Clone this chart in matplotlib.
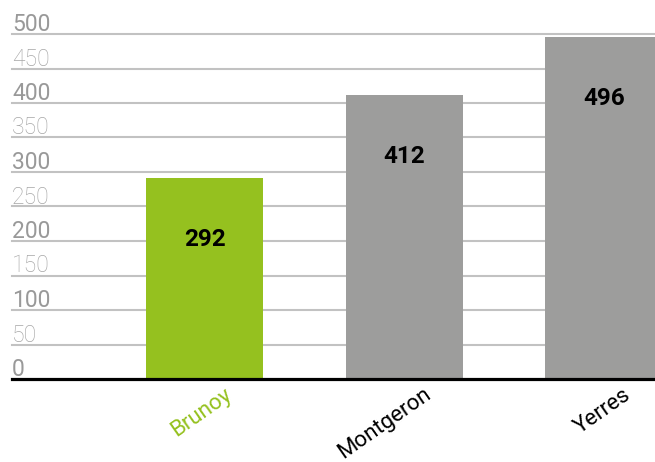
import matplotlib
matplotlib.use("Agg")
import matplotlib.pyplot as plt
import matplotlib.transforms as mtransforms

categories = ["Brunoy", "Montgeron", "Yerres"]
values = [292, 412, 496]
bar_colors = ["#95c11f", "#9d9d9c", "#9d9d9c"]
label_colors = ["#95c11f", "#000000", "#000000"]
yticks = [0, 50, 100, 150, 200, 250, 300, 350, 400, 450, 500]

W, H = 655, 462
fig = plt.figure(figsize=(W / 100, H / 100), dpi=100)
ax = fig.add_axes([12 / W, 83 / H, (W - 12) / W, 345 / H])

x = list(range(len(categories)))
ax.bar(x, values, width=0.587, color=bar_colors, zorder=3)
ax.set_xlim(-0.967, 2.256)
ax.set_ylim(0, 500)

for s in ax.spines.values():
    s.set_visible(False)
ax.set_xticks([])
ax.set_yticks([])

# gridlines and y labels
for v in yticks:
    if v == 0:
        continue
    ax.axhline(v, color="#c2c2c2", lw=1.5, zorder=1, clip_on=False)
major_off = mtransforms.ScaledTranslation(0, 3 / 100, fig.dpi_scale_trans)
for v in yticks:
    major = v % 100 == 0
    ax.text(0, v, str(v), transform=ax.get_yaxis_transform() + major_off,
            ha="left", va="baseline", family="Roboto",
            fontsize=16.5, color="#999999" if major else "#a6a6a6",
            fontweight="normal" if major else "light", zorder=2)

ax.axhline(0, color="black", lw=2.3, zorder=4, clip_on=False)

# value labels
for xi, v in zip(x, values):
    ax.text(xi, v - 90, str(v), ha="center", va="center", family="Roboto",
            fontsize=17.5, fontweight="bold", color="black", zorder=5)

# category labels
off = mtransforms.ScaledTranslation(19 / 100, -5 / 100, fig.dpi_scale_trans)
for xi, c, col in zip(x, categories, label_colors):
    ax.text(xi, 0, c, transform=ax.get_xaxis_transform() + off,
            rotation=35, rotation_mode="anchor", ha="right", va="top",
            family="Roboto", fontsize=16, color=col)

fig.savefig("out.png", dpi=100)
